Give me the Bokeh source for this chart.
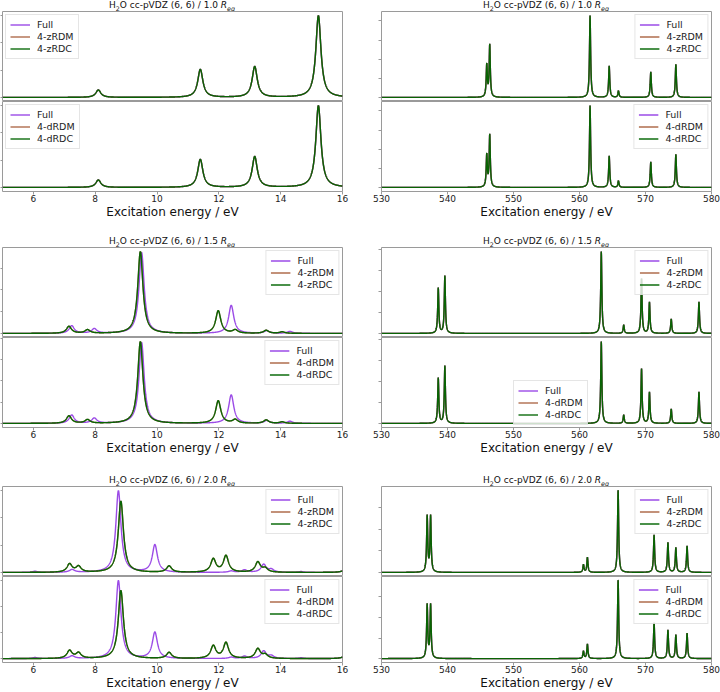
import numpy as np
from bokeh.plotting import figure
from bokeh.layouts import column, row
from bokeh.models import Div, FixedTicker, Range1d
from bokeh.embed import file_html
from bokeh.resources import INLINE

# Lorentzian half-width at half-maximum used to broaden the stick spectra (eV)
HWHM = 0.1

BOND_LENGTHS = ["1.0", "1.5", "2.0"]
VALENCE_TICKS = [6, 8, 10, 12, 14, 16]
CORE_TICKS = [530, 540, 550, 560, 570, 580]
INTENSITY_TICKS = [0, 1, 2, 3, 4]
XLABEL = "Excitation energy / eV"
TOP_LABELS = ["Full", "4-zRDM", "4-zRDC"]
BOTTOM_LABELS = ["Full", "4-dRDM", "4-dRDC"]

# ---- 1.0 R_eq: valence sticks (all three methods coincide)
VAL10_E = [8.10, 11.40, 13.16, 15.22]
VAL10_I = [0.27, 1.02, 1.12, 2.98]
# ---- 1.0 R_eq: core sticks
CORE10_E = [545.95, 546.40, 561.60, 564.50, 565.90, 570.80, 574.60]
CORE10_I = [1.68, 2.73, 4.28, 1.64, 0.34, 1.33, 1.73]

# ---- 1.5 R_eq: valence sticks
VAL15_FULL_E = [7.24, 7.97, 9.50, 12.40, 13.55, 14.30]
VAL15Z_FULL_I = [0.35, 0.21, 3.72, 1.29, 0.12, 0.09]
VAL15D_FULL_I = [0.39, 0.24, 3.80, 1.34, 0.13, 0.10]
VAL15_APPROX_E = [7.15, 7.75, 9.46, 11.98, 12.53, 13.53, 14.05]
VAL15Z_APPROX_I = [0.32, 0.16, 3.76, 1.04, 0.15, 0.14, 0.07]
VAL15D_APPROX_I = [0.35, 0.17, 3.84, 1.06, 0.17, 0.16, 0.07]
# ---- 1.5 R_eq: core sticks
CORE15_E = [538.60, 539.60, 563.30, 566.70, 569.40, 570.60, 573.90, 578.10]
CORE15_I = [2.16, 2.73, 3.89, 0.40, 2.60, 1.48, 0.69, 1.50]

# ---- 2.0 R_eq: valence sticks
VAL20_FULL_E = [6.05, 7.25, 8.75, 9.93, 12.40, 12.83, 13.45, 13.70, 14.66, 16.15]
VAL20_FULL_I = [0.04, 0.10, 2.98, 1.00, 0.05, 0.09, 0.29, 0.10, 0.03, 0.20]
VAL20_APPROX_E = [7.17, 7.46, 8.83, 10.39, 11.82, 12.23, 13.26, 13.50, 16.15]
VAL20_APPROX_I = [0.30, 0.21, 2.60, 0.23, 0.48, 0.60, 0.37, 0.14, 0.20]
# ---- 2.0 R_eq: core sticks
CORE20_E = [536.92, 537.44, 560.60, 561.20, 565.85, 571.30, 573.40, 574.60, 576.30]
CORE20_I = [2.60, 2.60, 0.36, 0.70, 3.84, 1.74, 1.38, 1.15, 1.23]

COLORS = ["#8a2be2", "#a0522d", "#006400"]
ALPHAS = [0.85, 0.85, 0.95]

VALENCE_GRID = np.linspace(5.0, 16.0, 2201)
CORE_GRID = np.linspace(530.0, 580.0, 2501)

LEFT = dict(bl=2, fw=340, br=18, tick=2)
RIGHT = dict(bl=21, fw=330, br=9, tick=3)
FRAME_H = 90
TITLE_H = 11
ROW_BOTTOM = [45, 48, 26]

FONT = "DejaVu Sans"


def spectrum(grid, energies, heights):
    e = np.asarray(energies, dtype=float)[:, None]
    h = np.asarray(heights, dtype=float)[:, None]
    return (h / (1.0 + ((grid[None, :] - e) / HWHM) ** 2)).sum(axis=0)


def make_panel(side, grid, ticks, series, labels, legend_loc, with_axis, bottom_border):
    curves = [spectrum(grid, e, i) for e, i in series]
    lo = min(c.min() for c in curves)
    hi = max(c.max() for c in curves)
    pad = 0.05 * (hi - lo)
    bb = bottom_border if with_axis else 0
    p = figure(width=side["bl"] + side["fw"] + side["br"], height=FRAME_H + bb,
               x_range=Range1d(grid[0], grid[-1]), y_range=Range1d(lo - pad, hi + pad),
               min_border_left=side["bl"], min_border_right=side["br"],
               min_border_top=0, min_border_bottom=bb,
               x_axis_location="below" if with_axis else None,
               output_backend="svg", toolbar_location=None)
    p.xgrid.visible = False
    p.ygrid.visible = False
    p.outline_line_color = "#9a9a9a"
    p.outline_line_width = 1
    p.background_fill_color = "white"
    p.border_fill_color = "white"

    for curve, label, color, alpha in zip(curves, labels, COLORS, ALPHAS):
        p.line(grid, curve, line_color=color, line_width=1.4, line_alpha=alpha,
               legend_label=label)

    # intensity axis: tick marks only, the values are not labelled
    ya = p.yaxis[0]
    ya.ticker = FixedTicker(ticks=INTENSITY_TICKS)
    ya.major_label_text_color = None
    ya.major_label_standoff = 0
    ya.major_tick_in = 0
    ya.major_tick_out = side["tick"]
    ya.major_tick_line_color = "#9a9a9a"
    ya.minor_tick_line_color = None
    ya.axis_line_color = None

    if with_axis:
        xa = p.xaxis[0]
        xa.ticker = FixedTicker(ticks=ticks)
        xa.minor_tick_line_color = None
        xa.major_tick_in = 0
        xa.major_tick_out = 3
        xa.major_tick_line_color = "#9a9a9a"
        xa.axis_line_color = None
        xa.major_label_text_font = FONT
        xa.major_label_text_font_size = "9px"
        xa.major_label_text_color = "#222222"
        xa.major_label_standoff = 0
        xa.axis_label = XLABEL
        xa.axis_label_text_font = FONT
        xa.axis_label_text_font_size = "12px"
        xa.axis_label_text_font_style = "normal"
        xa.axis_label_text_color = "#111111"
        xa.axis_label_standoff = 0

    lg = p.legend[0]
    lg.location = legend_loc
    lg.label_text_font = FONT
    lg.label_text_font_size = "9.5px"
    lg.label_text_color = "#222222"
    lg.glyph_width = 20
    lg.glyph_height = 11
    lg.label_height = 11
    lg.label_standoff = 7
    lg.spacing = 1
    lg.padding = 4
    lg.margin = 3
    lg.border_line_color = "#cccccc"
    lg.border_line_width = 1
    lg.background_fill_alpha = 0.8
    return p


def title_div(side, bond):
    sub = '<sub style="font-size:70%;line-height:0;color:#111111">'
    html = ('H' + sub + '2</sub>O cc-pVDZ (6, 6) / ' + bond
            + ' <i>R</i>' + sub + '<i>eq</i></sub>')
    return Div(text=html, width=side["fw"], height=TITLE_H,
               margin=(0, side["br"], 0, side["bl"]),
               styles={"font-family": FONT, "font-size": "9px", "line-height": "11px",
                       "text-align": "center", "color": "#111111",
                       "white-space": "nowrap", "overflow": "visible"})


def cell(side, grid, ticks, bond, top_series, bottom_series, locs, bottom_border):
    top = make_panel(side, grid, ticks, top_series, TOP_LABELS, locs[0], False, bottom_border)
    bottom = make_panel(side, grid, ticks, bottom_series, BOTTOM_LABELS, locs[1], True, bottom_border)
    return column(title_div(side, bond), top, bottom, spacing=0)


valence_sets = [
    ([(VAL10_E, VAL10_I)] * 3, [(VAL10_E, VAL10_I)] * 3),
    ([(VAL15_FULL_E, VAL15Z_FULL_I), (VAL15_APPROX_E, VAL15Z_APPROX_I), (VAL15_APPROX_E, VAL15Z_APPROX_I)],
     [(VAL15_FULL_E, VAL15D_FULL_I), (VAL15_APPROX_E, VAL15D_APPROX_I), (VAL15_APPROX_E, VAL15D_APPROX_I)]),
    ([(VAL20_FULL_E, VAL20_FULL_I), (VAL20_APPROX_E, VAL20_APPROX_I), (VAL20_APPROX_E, VAL20_APPROX_I)],
     [(VAL20_FULL_E, VAL20_FULL_I), (VAL20_APPROX_E, VAL20_APPROX_I), (VAL20_APPROX_E, VAL20_APPROX_I)]),
]
core_sets = [
    ([(CORE10_E, CORE10_I)] * 3, [(CORE10_E, CORE10_I)] * 3),
    ([(CORE15_E, CORE15_I)] * 3, [(CORE15_E, CORE15_I)] * 3),
    ([(CORE20_E, CORE20_I)] * 3, [(CORE20_E, CORE20_I)] * 3),
]
valence_locs = [("top_left", "top_left"), ("top_right", "top_right"), ("top_right", "top_right")]
core_locs = [("top_right", "top_right"), ("top_right", (132, 2)), ("top_right", "top_right")]

rows = []
for k in range(3):
    left = cell(LEFT, VALENCE_GRID, VALENCE_TICKS, BOND_LENGTHS[k],
                valence_sets[k][0], valence_sets[k][1], valence_locs[k], ROW_BOTTOM[k])
    right = cell(RIGHT, CORE_GRID, CORE_TICKS, BOND_LENGTHS[k],
                 core_sets[k][0], core_sets[k][1], core_locs[k], ROW_BOTTOM[k])
    rows.append(row(left, right, spacing=0))

layout = column(*rows, spacing=0)

with open("out.html", "w") as fh:
    fh.write(file_html(layout, INLINE))
